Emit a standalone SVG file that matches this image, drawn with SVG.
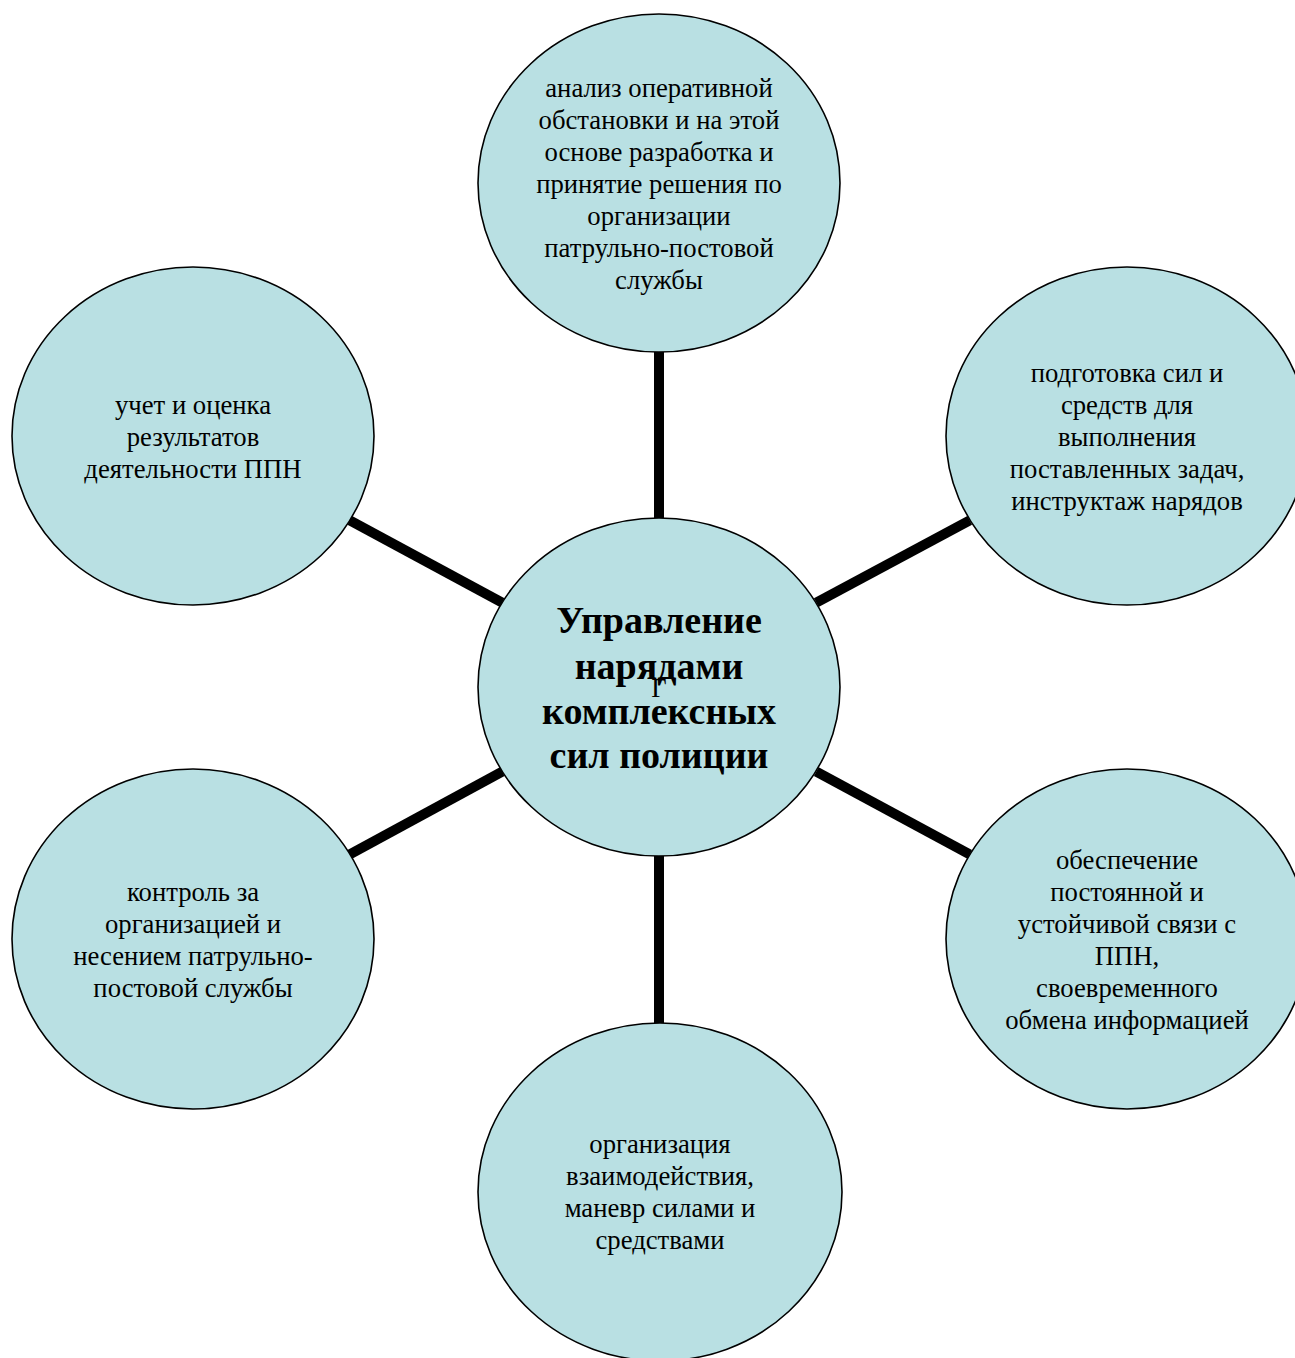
<svg xmlns="http://www.w3.org/2000/svg" width="1295" height="1358" viewBox="0 0 1295 1358">
<style>
.node ellipse{fill:#b9e0e3;stroke:#000;stroke-width:1.6}
.t{font-family:"Liberation Serif","Times New Roman",serif;font-size:26.7px;fill:#000;text-anchor:middle}
.tb{font-family:"Liberation Serif","Times New Roman",serif;font-size:38px;font-weight:bold;fill:#000;text-anchor:middle}
.conn line{stroke:#000;stroke-width:10;stroke-linecap:butt}
</style>
<rect width="1295" height="1358" fill="#fff"/>
<g id="connectors" class="conn">
<line x1="659" y1="352" x2="659" y2="518"/>
<line x1="659" y1="856" x2="659" y2="1023"/>
<line x1="349.8" y1="520.4" x2="502.2" y2="602.6"/>
<line x1="969.7" y1="520.4" x2="816.3" y2="602.6"/>
<line x1="349.8" y1="854.3" x2="502.2" y2="771.7"/>
<line x1="969.7" y1="854.3" x2="816.3" y2="771.7"/>
</g>
<g id="node-center" class="node">
<ellipse cx="659" cy="687" rx="181" ry="169"/>
<text class="tb" x="659" y="633">Управление</text>
<text class="tb" x="659" y="679">нарядами</text>
<text class="tb" x="659" y="724">комплексных</text>
<text class="tb" x="659" y="768">сил полиции</text>
<text class="t" x="659" y="697">Г</text>
</g>
<g id="node-top" class="node">
<ellipse cx="659" cy="183" rx="181" ry="169"/>
<text class="t" x="659" y="97">анализ оперативной</text>
<text class="t" x="659" y="129">обстановки и на этой</text>
<text class="t" x="659" y="161">основе разработка и</text>
<text class="t" x="659" y="193">принятие решения по</text>
<text class="t" x="659" y="225">организации</text>
<text class="t" x="659" y="257">патрульно-постовой</text>
<text class="t" x="659" y="289">службы</text>
</g>
<g id="node-upper-right" class="node">
<ellipse cx="1127" cy="436" rx="181" ry="169"/>
<text class="t" x="1127" y="382">подготовка сил и</text>
<text class="t" x="1127" y="414">средств для</text>
<text class="t" x="1127" y="446">выполнения</text>
<text class="t" x="1127" y="478">поставленных задач,</text>
<text class="t" x="1127" y="510">инструктаж нарядов</text>
</g>
<g id="node-lower-right" class="node">
<ellipse cx="1127" cy="939" rx="181" ry="170"/>
<text class="t" x="1127" y="869">обеспечение</text>
<text class="t" x="1127" y="901">постоянной и</text>
<text class="t" x="1127" y="933">устойчивой связи с</text>
<text class="t" x="1127" y="965">ППН,</text>
<text class="t" x="1127" y="997">своевременного</text>
<text class="t" x="1127" y="1029">обмена информацией</text>
</g>
<g id="node-bottom" class="node">
<ellipse cx="660" cy="1192" rx="182" ry="169"/>
<text class="t" x="660" y="1153">организация</text>
<text class="t" x="660" y="1185">взаимодействия,</text>
<text class="t" x="660" y="1217">маневр силами и</text>
<text class="t" x="660" y="1249">средствами</text>
</g>
<g id="node-lower-left" class="node">
<ellipse cx="193" cy="939" rx="181" ry="170"/>
<text class="t" x="193" y="901">контроль за</text>
<text class="t" x="193" y="933">организацией и</text>
<text class="t" x="193" y="965">несением патрульно-</text>
<text class="t" x="193" y="997">постовой службы</text>
</g>
<g id="node-upper-left" class="node">
<ellipse cx="193" cy="436" rx="181" ry="169"/>
<text class="t" x="193" y="414">учет и оценка</text>
<text class="t" x="193" y="446">результатов</text>
<text class="t" x="193" y="478">деятельности ППН</text>
</g>
</svg>
